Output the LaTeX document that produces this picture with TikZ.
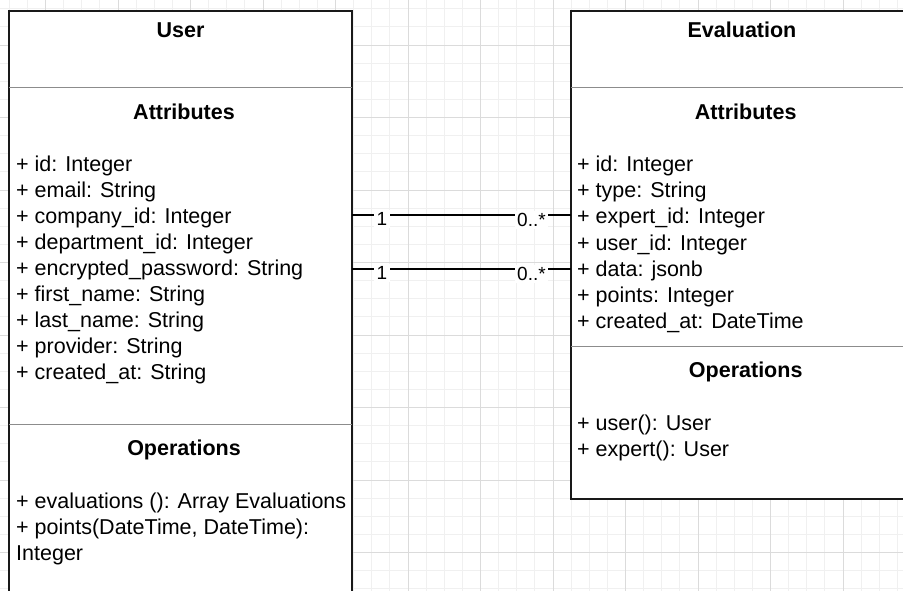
\documentclass[tikz,border=0pt]{standalone}
\usepackage{fontspec}
\setmainfont{Liberation Sans}
\begin{document}
\begin{tikzpicture}[x=1pt,y=-1pt,
  minor/.style={draw=black!6, line width=0.8pt},
  major/.style={draw=black!14, line width=0.9pt},
  classbox/.style={draw=black!90, line width=1.5pt, fill=white},
  divider/.style={draw=black!45, line width=1pt},
  title/.style={font=\fontsize{21.5}{26}\selectfont\bfseries, anchor=base, inner sep=0pt},
  item/.style={font=\fontsize{21.5}{26}\selectfont, anchor=base west, inner sep=0pt},
  mult/.style={font=\fontsize{19}{22}\selectfont, fill=white, inner sep=2.5pt},
  assoc/.style={draw=black, line width=1.3pt}]
\useasboundingbox (0,0) rectangle (903,591);
\clip (0,0) rectangle (903,591);
\fill[white] (0,0) rectangle (903,591);
% grid
\foreach \i in {0,...,50} { \draw[minor] (9.25+18.125*\i,0) -- (9.25+18.125*\i,591); }
\foreach \j in {0,...,33} { \draw[minor] (0,8.75+18.125*\j) -- (903,8.75+18.125*\j); }
\foreach \i in {0,...,12} { \draw[major] (45.5+72.5*\i,0) -- (45.5+72.5*\i,591); }
\foreach \j in {0,...,8} { \draw[major] (0,45+72.5*\j) -- (903,45+72.5*\j); }
% User class
\draw[classbox] (9,11) rectangle (352,620);
\draw[divider] (9,88) -- (352,88);
\draw[divider] (9,424) -- (352,424);
\node[title] (utitle) at (180.5,37.3) {User};
\node[title] (uattr) at (184,120) {Attributes};
\node[title] (uops) at (184,455) {Operations};
\foreach \t [count=\k] in {{+ id: Integer},{+ email: String},{+ company\_id: Integer},{+ department\_id: Integer},{+ encrypted\_password: String},{+ first\_name: String},{+ last\_name: String},{+ provider: String},{+ created\_at: String}}
  { \node[item] (ua\k) at (16,171.5+26.05*\k-26.05) {\t}; }
\foreach \t [count=\k] in {{+ evaluations (): Array Evaluations},{+ points(DateTime, DateTime):},{Integer}}
  { \node[item] (uo\k) at (16,508.3+26.1*\k-26.1) {\t}; }
% Evaluation class
\draw[classbox] (571,11) rectangle (915,499);
\draw[divider] (571,88) -- (915,88);
\draw[divider] (571,346) -- (915,346);
\node[title] (etitle) at (742,37.3) {Evaluation};
\node[title] (eattr) at (745.7,120) {Attributes};
\node[title] (eops) at (745.7,377) {Operations};
\foreach \t [count=\k] in {{+ id: Integer},{+ type: String},{+ expert\_id: Integer},{+ user\_id: Integer},{+ data: jsonb},{+ points: Integer},{+ created\_at: DateTime}}
  { \node[item] (ea\k) at (577,172+26*\k-26) {\t}; }
\node[item] (eo1) at (577,430) {+ user(): User};
\node[item] (eo2) at (577,456) {+ expert(): User};
% associations
\coordinate (u1) at (352,215);
\coordinate (e1) at (571,215);
\coordinate (u2) at (352,269);
\coordinate (e2) at (571,269);
\draw[assoc] (u1) -- (e1);
\draw[assoc] (u2) -- (e2);
\node[mult] (m1a) at (382,219) {1};
\node[mult] (m1b) at (531.5,220) {0..*};
\node[mult] (m2a) at (382,273) {1};
\node[mult] (m2b) at (531.5,274) {0..*};
\end{tikzpicture}
\end{document}
